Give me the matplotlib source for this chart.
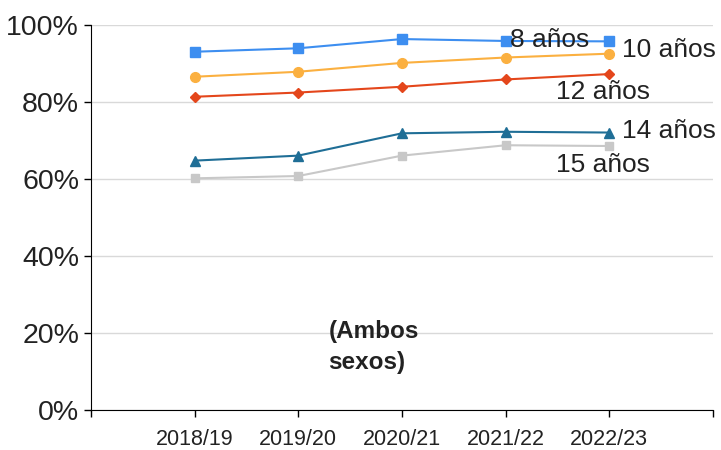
import matplotlib
matplotlib.use('Agg')
import matplotlib.pyplot as plt
import numpy as np

plt.rcParams['font.family'] = ['Liberation Sans', 'DejaVu Sans']

# data (percentages)
cursos = ['2018/19', '2019/20', '2020/21', '2021/22', '2022/23']
edad8 = [93.1, 94.0, 96.4, 95.9, 95.8]
edad10 = [86.6, 87.9, 90.2, 91.6, 92.6]
edad12 = [81.4, 82.5, 84.0, 85.9, 87.3]
edad14 = [64.8, 66.1, 71.9, 72.3, 72.1]
edad15 = [60.2, 60.8, 66.1, 68.8, 68.6]

series = [
    ('8 años', edad8, '#3d8ef0', 's', 7, (3.04, 96.1)),
    ('10 años', edad10, '#fbb040', 'o', 7, (4.12, 93.5)),
    ('12 años', edad12, '#e4461b', 'D', 5.5, (3.49, 82.6)),
    ('14 años', edad14, '#1f6e96', '^', 7, (4.12, 72.5)),
    ('15 años', edad15, '#c8c8c8', 's', 6, (3.49, 63.6)),
]

fig = plt.figure(figsize=(7.21, 4.5), dpi=100)
ax = fig.add_axes([0.126, 0.089, 0.863, 0.855])
x = np.arange(len(cursos))

for name, vals, col, mk, ms, pos in series:
    ax.plot(x, vals, color=col, marker=mk, markersize=ms, linewidth=1.5)
    ax.text(pos[0], pos[1], name, fontsize=19, color='#222222',
            va='center', ha='left', clip_on=False)

ax.text(1.29, 23.3, '(Ambos\nsexos)', fontsize=17.5, fontweight='bold',
        color='#222222', va='top', ha='left', linespacing=1.4)

ax.set_xlim(-1, 5)
ax.set_ylim(0, 100)
ax.set_xticks(np.arange(-1, 6))
ax.set_xticklabels([''] + cursos + [''], fontsize=15.5, color='#222222')
ax.set_yticks(np.arange(0, 101, 20))
ax.set_yticklabels(['%d%%' % v for v in range(0, 101, 20)], fontsize=20.5,
                   color='#222222')
ax.tick_params(axis='both', direction='out', length=5, width=1, color='black')
ax.tick_params(axis='x', pad=9)
ax.grid(axis='y', color='#d9d9d9', linewidth=1)
ax.set_axisbelow(True)
for s in ['top', 'right']:
    ax.spines[s].set_visible(False)
ax.spines['left'].set_color('black')
ax.spines['bottom'].set_color('black')

fig.savefig('out.png', dpi=100)
